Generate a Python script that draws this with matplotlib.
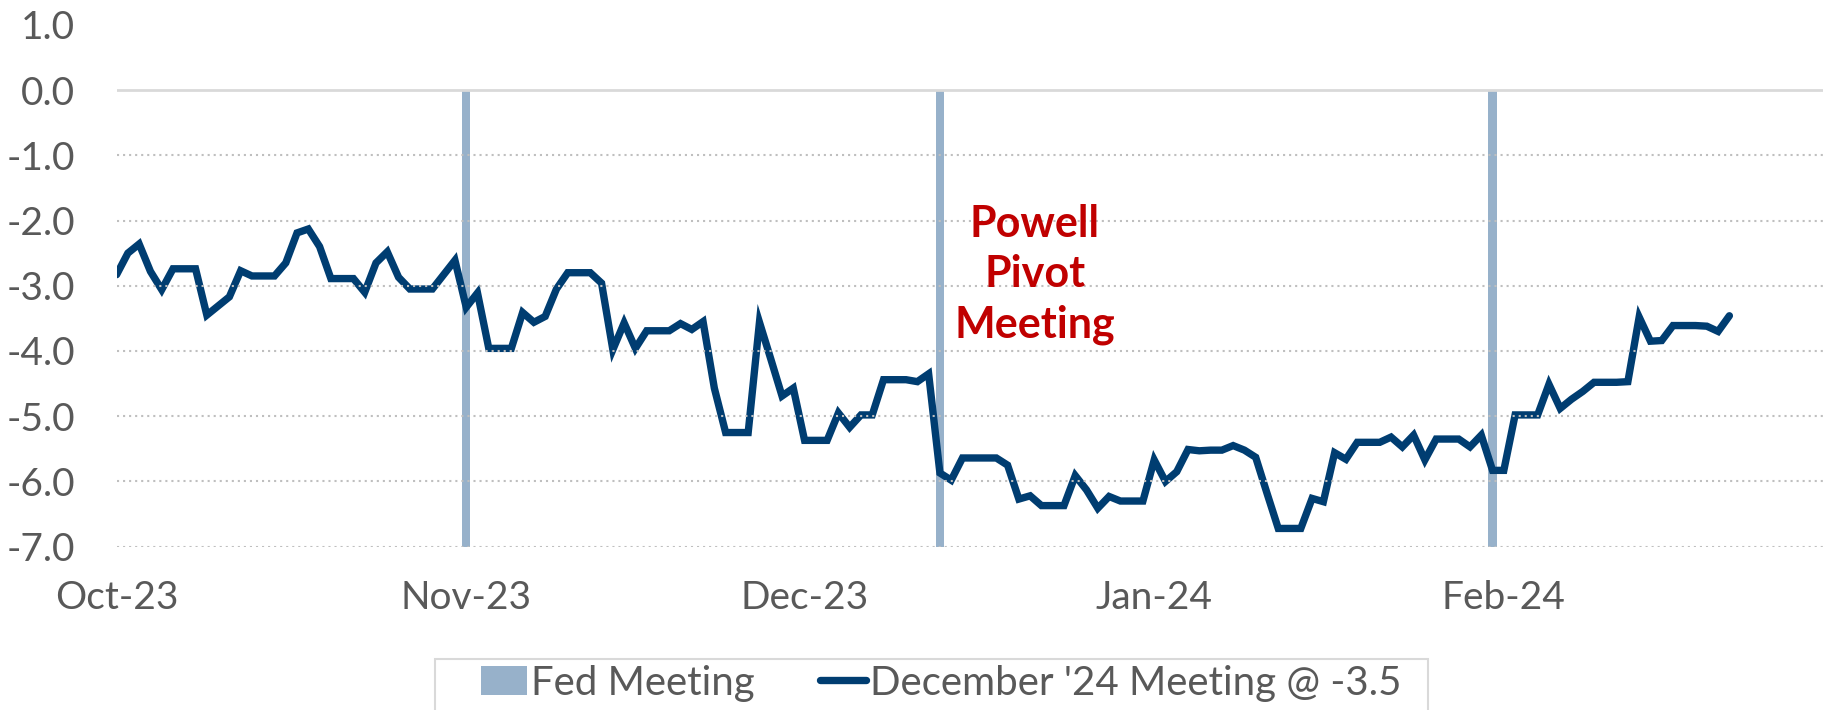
import matplotlib
matplotlib.use("Agg")
import matplotlib.pyplot as plt
import matplotlib.dates as mdates
from matplotlib.lines import Line2D
from matplotlib.patches import Patch, Rectangle
import pandas as pd

plt.rcParams['font.family'] = ['Lato', 'DejaVu Sans']
plt.rcParams['axes.unicode_minus'] = False

# ---- data ----
dates = pd.date_range('2023-10-01', '2024-02-21', freq='D')
dec24_values = [
    -2.83, -2.50, -2.36, -2.78, -3.06, -2.74, -2.74, -2.74, -3.45, -3.31,
    -3.17, -2.77, -2.85, -2.85, -2.85, -2.65, -2.19, -2.13, -2.40, -2.89,
    -2.89, -2.89, -3.10, -2.65, -2.48, -2.87, -3.05, -3.05, -3.05, -2.83,
    -2.61, -3.33, -3.11, -3.96, -3.96, -3.96, -3.41, -3.56, -3.47, -3.05,
    -2.80, -2.80, -2.80, -2.96, -3.98, -3.57, -3.96, -3.69, -3.69, -3.69,
    -3.58, -3.67, -3.55, -4.57, -5.25, -5.25, -5.25, -3.56, -4.12, -4.69,
    -4.57, -5.37, -5.37, -5.37, -4.95, -5.17, -4.98, -4.98, -4.44, -4.44,
    -4.44, -4.47, -4.35, -5.87, -5.98, -5.64, -5.64, -5.64, -5.64, -5.75,
    -6.27, -6.22, -6.37, -6.37, -6.37, -5.91, -6.13, -6.41, -6.23, -6.30,
    -6.30, -6.30, -5.67, -6.00, -5.85, -5.51, -5.53, -5.52, -5.52, -5.45,
    -5.52, -5.63, -6.18, -6.72, -6.72, -6.72, -6.26, -6.31, -5.56, -5.66,
    -5.40, -5.40, -5.40, -5.32, -5.47, -5.29, -5.67, -5.35, -5.35, -5.35,
    -5.47, -5.29, -5.83, -5.83, -4.98, -4.98, -4.98, -4.51, -4.88, -4.74,
    -4.62, -4.48, -4.48, -4.48, -4.47, -3.48, -3.85, -3.84, -3.61, -3.61,
    -3.61, -3.62, -3.70, -3.46,
]
fed_dates = pd.to_datetime(['2023-11-01', '2023-12-13', '2024-01-31'])
fed_values = [-7, -7, -7]
y_ticks = [1, 0, -1, -2, -3, -4, -5, -6, -7]
line_label = "December '24 Meeting @ -3.5"
bar_label = "Fed Meeting"
annotation = "Powell\nPivot\nMeeting"
annotation_date = pd.Timestamp('2023-12-21 10:00')
annotation_y = -2.83

# ---- style ----
LINE_C = '#003D71'
BAR_C = '#97B1CA'
TXT_C = '#595959'
GRID_C = '#BFBFBF'
RED = '#C00000'
FS = 28
LW = 5.3

W, H = 1830, 710
fig = plt.figure(figsize=(W / 100, H / 100), dpi=100)
left, right = 116.6, 1823.0
top, bottom = 24.8, 546.7
ax = fig.add_axes([left / W, 1 - bottom / H, (right - left) / W, (bottom - top) / H])

x0 = pd.Timestamp('2023-10-01')
ax.set_xlim(x0, x0 + pd.Timedelta(days=151.3))
ax.set_ylim(-7, 1)

ax.bar(fed_dates, fed_values, width=0.74, color=BAR_C, zorder=2, label=bar_label)
ax.plot(dates, dec24_values, color=LINE_C, lw=LW, solid_joinstyle='miter',
        solid_capstyle='round', zorder=3, label=line_label)

for v in y_ticks:
    if v == 0:
        ax.axhline(v, color='#D9D9D9', lw=2.0, zorder=4)
    elif v < 0:
        ax.axhline(v, color=GRID_C, lw=1.5, ls=(0, (1, 1.9)), zorder=4)

ax.set_yticks(y_ticks)
ax.set_yticklabels([f"{v:.1f}" for v in y_ticks])
ax.xaxis.set_major_locator(mdates.MonthLocator())
ax.xaxis.set_major_formatter(mdates.DateFormatter('%b-%y'))
ax.tick_params(axis='y', length=0, pad=30, labelsize=FS, labelcolor=TXT_C)
ax.tick_params(axis='x', length=0, pad=24, labelsize=FS, labelcolor=TXT_C)
for s in ax.spines.values():
    s.set_visible(False)

ax.text(annotation_date, annotation_y, annotation, color=RED, fontsize=31,
        fontweight='bold', ha='center', va='center', linespacing=1.32, zorder=5)

# legend frame (runs off the bottom edge like the reference)
fig.patches.append(Rectangle((435 / W, -0.1), (1428 - 435) / W, 0.1 + 1 - 659 / H,
                             transform=fig.transFigure, facecolor='white',
                             edgecolor='#D9D9D9', lw=1.5, zorder=0))
handles = [Patch(facecolor=BAR_C, edgecolor='none'),
           Line2D([0], [0], color=LINE_C, lw=LW, solid_capstyle='round')]
leg = fig.legend(handles, [bar_label, line_label], loc='center left',
                 bbox_to_anchor=(481 / W, 1 - 683 / H), ncol=2, fontsize=29,
                 frameon=False, handlelength=1.15, handletextpad=0.1,
                 columnspacing=1.6, borderpad=0, borderaxespad=0)
for t in leg.get_texts():
    t.set_color(TXT_C)

fig.savefig('out.png', dpi=100)
